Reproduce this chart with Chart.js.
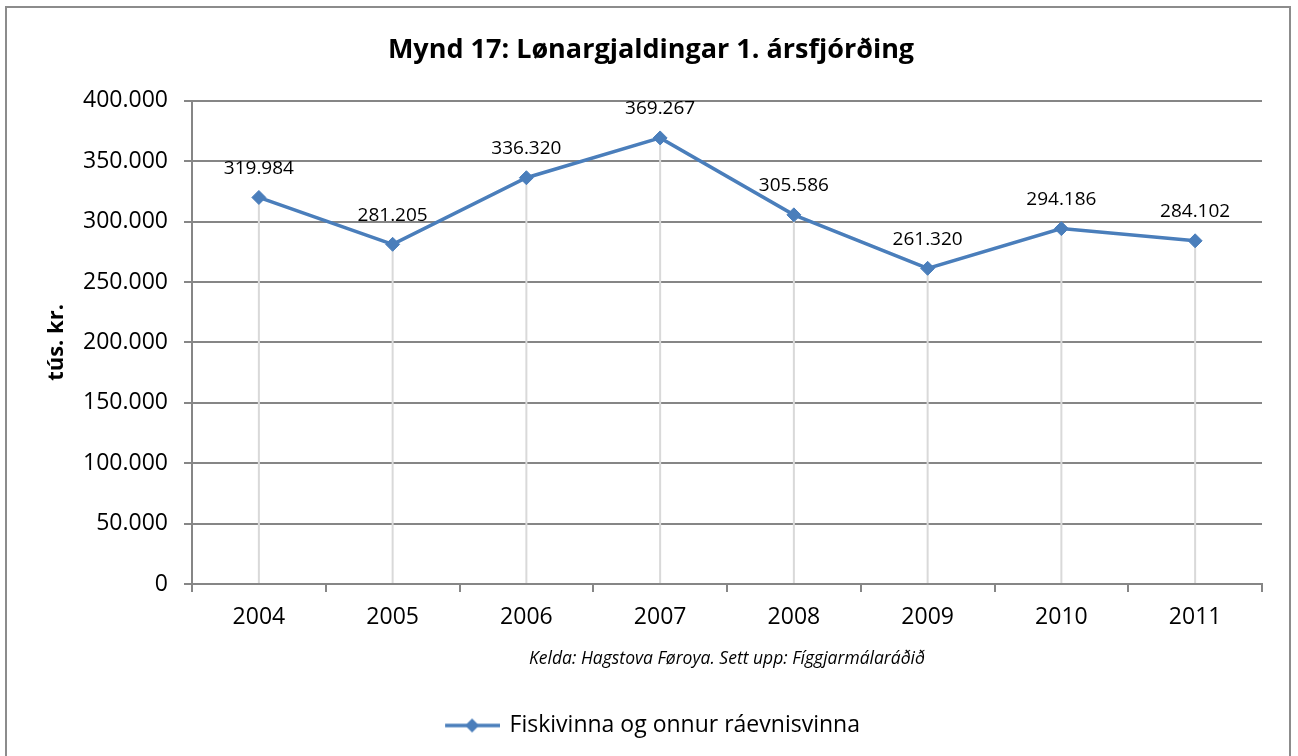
<!DOCTYPE html>
<html>
<head>
<meta charset="utf-8">
<script src="https://cdn.jsdelivr.net/npm/chart.js@4.4.0/dist/chart.umd.min.js"></script>
<style>
  html, body { margin: 0; padding: 0; background: #fff; }
  #wrap { width: 1298px; height: 756px; }
</style>
</head>
<body>
<div id="wrap"><canvas id="myChart" width="1298" height="756"></canvas></div>
<script>
const years = ['2004', '2005', '2006', '2007', '2008', '2009', '2010', '2011'];
const wages = [319984, 281205, 336320, 369267, 305586, 261320, 294186, 284102];
const seriesName = 'Fiskivinna og onnur ráevnisvinna';
const chartTitle = 'Mynd 17: Lønargjaldingar 1. ársfjórðing';
const yTitle = 'tús. kr.';
const sourceNote = 'Kelda: Hagstova Føroya. Sett upp: Fíggjarmálaráðið';

const blue = '#4a7ebb';
const gridGray = '#868686';
const font = 'Open Sans';

function fmt(v) {
    return String(v).replace(/\B(?=(\d{3})+(?!\d))/g, '.');
}

// legend symbol: line with diamond, like Excel
const legendIcon = document.createElement('canvas');
legendIcon.width = 60;
legendIcon.height = 18;
(function () {
    const c = legendIcon.getContext('2d');
    c.strokeStyle = blue;
    c.lineWidth = 3.5;
    c.beginPath();
    c.moveTo(5, 9);
    c.lineTo(60, 9);
    c.stroke();
    c.fillStyle = blue;
    c.beginPath();
    c.moveTo(32, 2);
    c.lineTo(39, 9);
    c.lineTo(32, 16);
    c.lineTo(25, 9);
    c.closePath();
    c.fill();
})();

const frame = {
    id: 'frame',
    beforeDraw(chart) {
        const ctx = chart.ctx;
        ctx.save();
        ctx.strokeStyle = '#8c8c8c';
        ctx.lineWidth = 2;
        ctx.beginPath();
        ctx.moveTo(6, 760);
        ctx.lineTo(6, 7);
        ctx.lineTo(1290, 7);
        ctx.lineTo(1290, 760);
        ctx.stroke();
        ctx.restore();
    }
};

const dropLines = {
    id: 'dropLines',
    beforeDatasetsDraw(chart) {
        const ctx = chart.ctx;
        const bottom = chart.chartArea.bottom;
        ctx.save();
        ctx.strokeStyle = '#d9d9d9';
        ctx.lineWidth = 2;
        chart.getDatasetMeta(0).data.forEach(function (p) {
            ctx.beginPath();
            ctx.moveTo(p.x, p.y);
            ctx.lineTo(p.x, bottom - 1);
            ctx.stroke();
        });
        ctx.restore();
    }
};

const valueLabels = {
    id: 'valueLabels',
    afterDatasetsDraw(chart) {
        const ctx = chart.ctx;
        const ds = chart.data.datasets[0];
        ctx.save();
        ctx.fillStyle = '#000';
        ctx.font = '19px "' + font + '"';
        ctx.textAlign = 'center';
        ctx.textBaseline = 'middle';
        chart.getDatasetMeta(0).data.forEach(function (p, i) {
            ctx.fillText(fmt(ds.data[i]), p.x, p.y - 29);
        });
        ctx.restore();
    }
};

new Chart(document.getElementById('myChart'), {
    type: 'line',
    data: {
        labels: years,
        datasets: [{
            label: seriesName,
            data: wages,
            borderColor: blue,
            backgroundColor: blue,
            borderWidth: 3.5,
            pointStyle: 'rectRot',
            pointRadius: 7,
            pointHoverRadius: 7,
            pointBorderWidth: 1,
            tension: 0
        }]
    },
    options: {
        responsive: false,
        animation: false,
        events: [],
        layout: { padding: { top: 24, left: 40, right: 36, bottom: 9 } },
        plugins: {
            title: {
                display: true,
                text: chartTitle,
                color: '#000',
                font: { family: font, size: 27, weight: 'bold' },
                padding: { top: 10, bottom: 34.4 }
            },
            legend: {
                position: 'bottom',
                labels: {
                    color: '#000',
                    font: { family: font, size: 23 },
                    usePointStyle: true,
                    pointStyle: legendIcon,
                    pointStyleWidth: 56,
                    padding: 24
                }
            },
            tooltip: { enabled: false }
        },
        scales: {
            x: {
                offset: true,
                grid: {
                    offset: true,
                    drawOnChartArea: false,
                    drawTicks: true,
                    tickLength: 8,
                    color: gridGray,
                    lineWidth: 2
                },
                border: { color: gridGray, width: 2 },
                ticks: {
                    color: '#000',
                    font: { family: font, size: 23 },
                    padding: 12
                },
                title: {
                    display: true,
                    text: sourceNote,
                    color: '#000',
                    font: { family: font, size: 17.5, style: 'italic' },
                    padding: { top: 4, bottom: 20 }
                },
                afterFit(scale) { scale.height = 106; }
            },
            y: {
                min: 0,
                max: 400000,
                ticks: {
                    stepSize: 50000,
                    color: '#000',
                    font: { family: font, size: 23 },
                    padding: 16,
                    callback: function (v) { return fmt(v); }
                },
                grid: {
                    color: gridGray,
                    lineWidth: 2,
                    tickLength: 8
                },
                border: { color: gridGray, width: 2 },
                title: {
                    display: true,
                    text: yTitle,
                    color: '#000',
                    font: { family: font, size: 22, weight: 'bold' },
                    padding: { top: 4, bottom: 4 }
                },
                afterFit(scale) { scale.width = 152; }
            }
        }
    },
    plugins: [frame, dropLines, valueLabels]
});
</script>
</body>
</html>
